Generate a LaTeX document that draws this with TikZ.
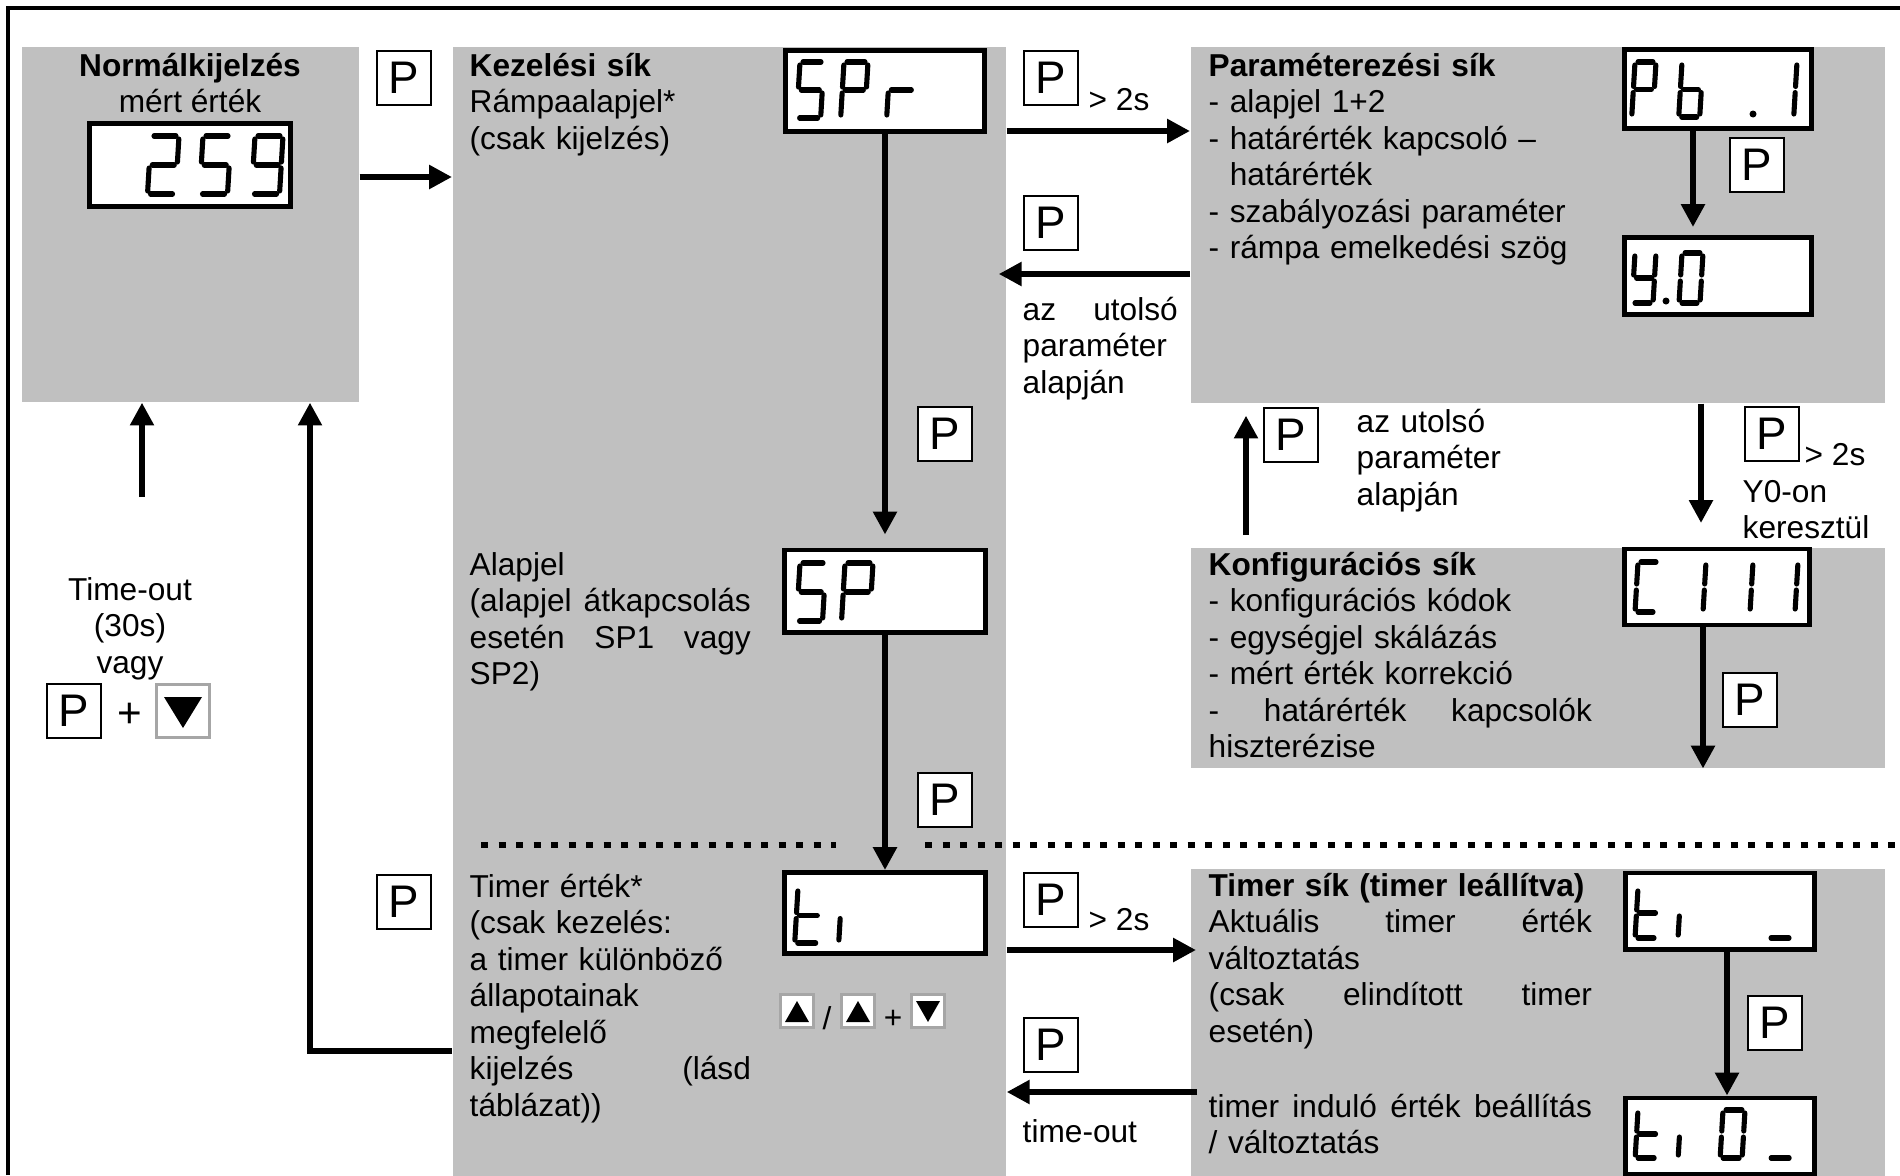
\documentclass[tikz,border=0pt]{standalone}
\usepackage{fontspec}
\setmainfont{Liberation Sans}
\usepackage{tikz}
\usetikzlibrary{arrows.meta,positioning}
\definecolor{panelgray}{RGB}{192,192,192}

% one justified line of given width (align=left fixes \spaceskip, so reset it)
\newcommand\jl[2]{{\spaceskip=0pt\xspaceskip=0pt\makebox[#1][s]{#2}}}
% seven segment parts, local frame: top left corner, y down
\newcommand\sgA{\draw[lcdseg] (3,0) -- (\dw-3,0);}
\newcommand\sgB{\draw[lcdseg] (\dw,3) -- (\dw,\dh/2-3);}
\newcommand\sgC{\draw[lcdseg] (\dw,\dh/2+3) -- (\dw,\dh-3);}
\newcommand\sgD{\draw[lcdseg] (3,\dh) -- (\dw-3,\dh);}
\newcommand\sgE{\draw[lcdseg] (0,\dh/2+3) -- (0,\dh-3);}
\newcommand\sgF{\draw[lcdseg] (0,3) -- (0,\dh/2-3);}
\newcommand\sgG{\draw[lcdseg] (3,\dh/2) -- (\dw-3,\dh/2);}
\newcommand\lcdglyph[5]{%
  \begin{scope}[shift={(#1,#2)},xslant=0.06]
    \def\dw{#3}\def\dh{#4}
    \foreach \s in {#5}{\csname sg\s\endcsname}
  \end{scope}}

\begin{document}
\begin{tikzpicture}[x=0.01cm,y=-0.01cm,
    every node/.style={font=\fontsize{9}{10.4}\selectfont},
    panel/.style={fill=panelgray,inner sep=0,anchor=north west},
    lcd/.style={draw,fill=white,line width=1.4pt,inner sep=0},
    lcdseg/.style={line width=1.45pt,line cap=round},
    pkey/.style={draw,fill=white,line width=0.6pt,minimum size=0.54cm,inner sep=0,font=\fontsize{13}{13}\selectfont},
    arrkey/.style={draw=gray!70,fill=white,line width=0.6pt,minimum size=0.33cm,inner sep=0},
    flow/.style={line width=1.8pt,line join=miter,-{Triangle[length=6.5pt,width=6.5pt]}},
    txt/.style={inner sep=0,anchor=base west,align=left},
    sepline/.style={line width=1.6pt,dash pattern=on 0.07cm off 0.105cm}]
  \useasboundingbox (0,0) rectangle (1900,1175);

  % panels
  \node[panel,minimum width=3.37cm,minimum height=3.55cm] (normal) at (21,46) {};
  \node[panel,minimum width=5.53cm,minimum height=11.29cm] (kezel) at (452,46) {};
  \node[panel,minimum width=6.94cm,minimum height=3.56cm] (param) at (1190,46) {};
  \node[panel,minimum width=6.94cm,minimum height=2.2cm] (konfig) at (1190,547) {};
  \node[panel,minimum width=6.94cm,minimum height=3.07cm] (timer) at (1190,868) {};
  \draw[line width=1pt] (8,1175) -- (8,8) -- (1900,8);

  % displays
  \node[lcd,minimum width=2.0cm,minimum height=0.83cm] (d259) at (190,165) {};
  \node[lcd,minimum width=1.99cm,minimum height=0.81cm] (dspr) at (885,91) {};
  \node[lcd,minimum width=2.0cm,minimum height=0.82cm] (dsp) at (885,591) {};
  \node[lcd,minimum width=2.0cm,minimum height=0.81cm] (dti) at (885,913) {};
  \node[lcd,minimum width=1.87cm,minimum height=0.79cm] (dpb) at (1718,89) {};
  \node[lcd,minimum width=1.87cm,minimum height=0.77cm] (dy0) at (1718,276) {};
  \node[lcd,minimum width=1.85cm,minimum height=0.76cm] (dc) at (1717,587) {};
  \node[lcd,minimum width=1.89cm,minimum height=0.76cm] (dtiu) at (1720,911) {};
  \node[lcd,minimum width=1.89cm,minimum height=0.76cm] (dti0) at (1720,1136) {};

  % digits
  \lcdglyph{151}{136}{28}{58}{A,B,G,E,D}
  \lcdglyph{203}{136}{28}{58}{A,F,G,C,D}
  \lcdglyph{255}{136}{28}{58}{A,B,C,D,F,G}
  \lcdglyph{800}{62}{24}{56}{A,F,G,C,D}
  \lcdglyph{844}{62}{24}{56}{A,B,F,G,E}
  \lcdglyph{890}{62}{26}{56}{E,G}
  \lcdglyph{800}{563}{26}{58}{A,F,G,C,D}
  \lcdglyph{845}{563}{28}{58}{A,B,F,G,E}
  \lcdglyph{798}{888}{24}{55}{F,E,G,D}
  \lcdglyph{842}{888}{24}{55}{E}
  \lcdglyph{1635}{62}{21}{55}{A,B,F,G,E}
  \lcdglyph{1682}{62}{21}{55}{F,E,G,C,D}
  \fill (1753,114) circle [radius=3.5];
  \lcdglyph{1776}{62}{21}{55}{B,C}
  \lcdglyph{1635}{253}{21}{50}{F,B,G,C,D}
  \fill (1666,301) circle [radius=3.5];
  \lcdglyph{1682}{253}{21}{50}{A,B,C,D,E,F}
  \lcdglyph{1638}{562}{21}{50}{A,F,E,D}
  \lcdglyph{1685}{562}{21}{50}{B,C}
  \lcdglyph{1732}{562}{21}{50}{B,C}
  \lcdglyph{1777}{562}{21}{50}{B,C}
  \lcdglyph{1638}{888}{22}{50}{F,E,G,D}
  \lcdglyph{1681}{888}{22}{50}{E}
  \lcdglyph{1771}{888}{24}{50}{D}
  \lcdglyph{1638}{1110}{22}{48}{F,E,G,D}
  \lcdglyph{1681}{1110}{22}{48}{E}
  \lcdglyph{1723}{1110}{22}{48}{A,B,C,D,E,F}
  \lcdglyph{1771}{1110}{24}{48}{D}

  % texts
  \node[anchor=base,inner sep=0] (normt) at (190,76) {\textbf{Normálkijelzés}};
  \node[anchor=base,inner sep=0] (normv) at (190,112) {mért érték};
  \node[txt,text width=2.9cm] (keztxt) at (469,76) {\textbf{Kezelési sík}\\Rámpaalapjel*\\(csak kijelzés)};
  \node[txt,text width=2.81cm] (alaptxt) at (469,575) {Alapjel\\\jl{2.81cm}{(alapjel átkapcsolás}\\\jl{2.81cm}{esetén SP1 vagy}\\SP2)};
  \node[txt,text width=2.81cm] (timtxt) at (469,897) {Timer érték*\\(csak kezelés:\\a timer különböző\\állapotainak\\megfelelő\\\jl{2.81cm}{kijelzés (lásd}\\táblázat))};
  \node[txt,text width=3.9cm] (partxt) at (1208,76) {\textbf{Paraméterezési sík}\\- alapjel 1+2\\- határérték kapcsoló –\\\phantom{-} határérték\\- szabályozási paraméter\\- rámpa emelkedési szög};
  \node[txt,text width=3.83cm] (konftxt) at (1208,575) {\textbf{Konfigurációs sík}\\- konfigurációs kódok\\- egységjel skálázás\\- mért érték korrekció\\\jl{3.83cm}{- határérték kapcsolók}\\hiszterézise};
  \node[txt,text width=3.83cm] (timertxt) at (1208,896) {\textbf{Timer sík (timer leállítva)}\\\jl{3.83cm}{Aktuális timer érték}\\változtatás\\\jl{3.83cm}{(csak elindított timer}\\esetén)};
  \node[txt,text width=3.83cm] (startxt) at (1208,1117) {\jl{3.83cm}{timer induló érték beállítás}\\/ változtatás};
  \node[txt,text width=1.55cm] (lastA) at (1022,320) {\jl{1.55cm}{az utolsó}\\paraméter\\alapján};
  \node[txt,text width=1.7cm] (lastB) at (1356,432) {az utolsó\\paraméter\\alapján};
  \node[txt] (gt1) at (1088,110) {> 2s};
  \node[txt] (gt2) at (1088,930) {> 2s};
  \node[txt] (gt3) at (1804,465) {> 2s};
  \node[txt,text width=1.6cm] (y0on) at (1742,502) {Y0-on\\keresztül};
  \node[txt] (tout) at (1022,1142) {time-out};
  \node[anchor=base,align=center,text width=2cm,inner sep=0] (timeout) at (130,600) {Time-out\\(30s)\\vagy};

  % keys
  \node[pkey] (pk1) at (404,78) {P};
  \node[pkey] (pk2) at (1051,78) {P};
  \node[pkey] (pk3) at (1051,223) {P};
  \node[pkey] (pk4) at (1757,165) {P};
  \node[pkey] (pk5) at (945,434) {P};
  \node[pkey] (pk6) at (1291,435) {P};
  \node[pkey] (pk7) at (1772,434) {P};
  \node[pkey] (pk8) at (945,800) {P};
  \node[pkey] (pk9) at (1750,700) {P};
  \node[pkey] (pk10) at (74,711) {P};
  \node[pkey] (pk11) at (404,902) {P};
  \node[pkey] (pk12) at (1051,900) {P};
  \node[pkey] (pk13) at (1051,1045) {P};
  \node[pkey] (pk14) at (1775,1023) {P};
  \node[inner sep=0,font=\fontsize{12}{12}\selectfont] (plus1) at (130,715) {+};
  \node[arrkey,minimum size=0.53cm] (dn1) at (183,711) {};
  \fill (dn1.center) ++(-19,-14) -- ++(38,0) -- ++(-19,31) -- cycle;
  \node[arrkey] (up2) at (797,1011) {};
  \fill (up2.center) ++(-12,11) -- ++(24,0) -- ++(-12,-21) -- cycle;
  \node[inner sep=0] (slash) at (827,1018) {/};
  \node[arrkey] (up3) at (858,1011) {};
  \fill (up3.center) ++(-12,11) -- ++(24,0) -- ++(-12,-21) -- cycle;
  \node[inner sep=0] (plus2) at (893,1019) {+};
  \node[arrkey] (dn2) at (928,1011) {};
  \fill (dn2.center) ++(-12,-10) -- ++(24,0) -- ++(-12,21) -- cycle;

  % separating dotted line
  \draw[sepline] (481,845) -- (836,845);
  \draw[sepline] (925,845) -- (1900,845);

  % connectors
  \draw[flow] (normal.east |- 0,177) -- (kezel.west |- 0,177);
  \draw[flow,shorten >=0.13cm] (dspr.south) -- (dsp.north);
  \draw[flow] (dsp.south) -- (dti.north);
  \draw[flow] (kezel.east |- 0,131) -- (param.west |- 0,131);
  \draw[flow,shorten >=-0.08cm] (param.west |- 0,274) -- (kezel.east |- 0,274);
  \draw[flow,shorten >=0.08cm] ([xshift=-0.25cm]dpb.south) -- ([xshift=-0.25cm]dy0.north);
  \draw[flow,shorten <=0.12cm,shorten >=0.12cm] (konfig.north -| 1246,0) -- (param.south -| 1246,0);
  \draw[flow,shorten >=0.24cm] (param.south -| 1701,0) -- (konfig.north -| 1701,0);
  \draw[flow] (dc.south -| 1703,0) -- (konfig.south -| 1703,0);
  \draw[flow,shorten >=-0.06cm] (kezel.east |- 0,950) -- (timer.west |- 0,950);
  \draw[flow,shorten <=-0.07cm] (timer.west |- 0,1092) -- (kezel.east |- 0,1092);
  \draw[flow] ([xshift=0.07cm]dtiu.south) -- ([xshift=0.07cm]dti0.north);
  \coordinate (tostart) at (142,497);
  \draw[flow] (tostart) -- (tostart |- normal.south);
  \draw[flow] (kezel.west |- 0,1051) -| (normal.south -| 310,0);
\end{tikzpicture}
\end{document}
